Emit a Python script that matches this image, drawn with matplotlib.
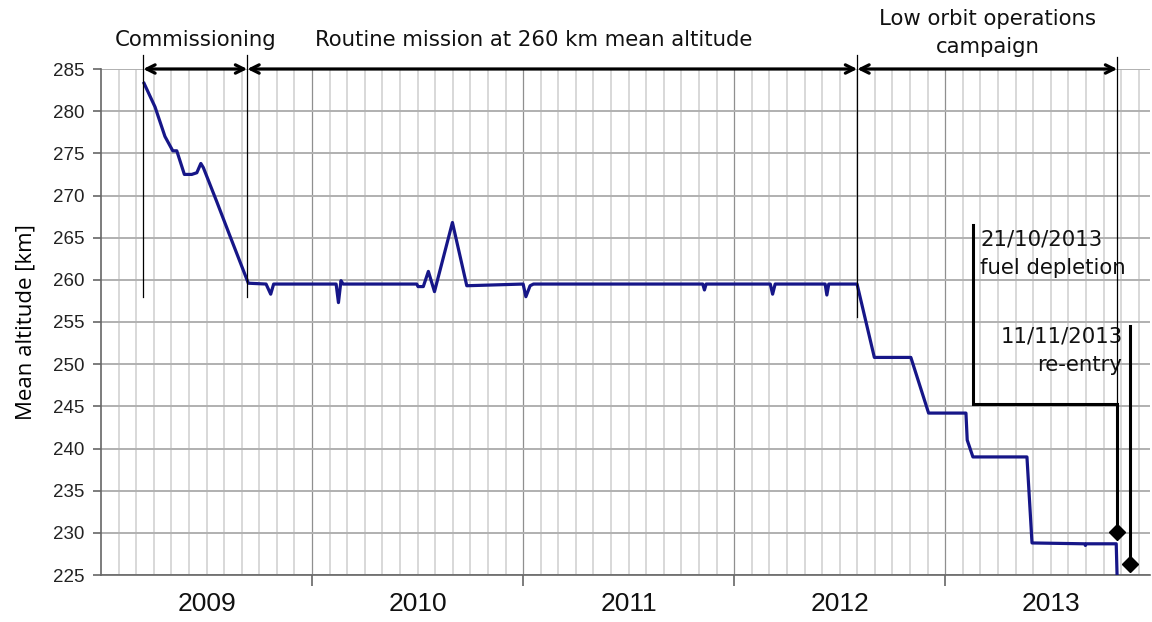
import numpy as np
import matplotlib
matplotlib.use("Agg")
import matplotlib.pyplot as plt

# ---- data (fractional years, mean altitude in km) ----
t = [2009.204, 2009.256, 2009.303, 2009.340, 2009.359, 2009.395, 2009.430,
     2009.454, 2009.473, 2009.485, 2009.548, 2009.611, 2009.698,
     2009.782, 2009.804, 2009.818,
     2010.114, 2010.125, 2010.137, 2010.147,
     2010.496, 2010.502, 2010.527, 2010.551, 2010.580, 2010.665, 2010.733,
     2011.000, 2011.013, 2011.033, 2011.049,
     2011.851, 2011.859, 2011.867,
     2012.171, 2012.182, 2012.194,
     2012.431, 2012.439, 2012.448,
     2012.582, 2012.664, 2012.837, 2012.921, 2013.098, 2013.104, 2013.131,
     2013.387, 2013.411, 2013.660, 2013.664, 2013.668, 2013.810, 2013.815]
alt = [283.3, 280.5, 277.0, 275.3, 275.3, 272.5, 272.5,
       272.7, 273.8, 273.3, 269.3, 265.2, 259.6,
       259.5, 258.3, 259.5,
       259.5, 257.3, 259.9, 259.5,
       259.5, 259.2, 259.2, 261.0, 258.6, 266.8, 259.3,
       259.5, 258.0, 259.3, 259.5,
       259.5, 258.8, 259.5,
       259.5, 258.3, 259.5,
       259.5, 258.2, 259.5,
       259.5, 250.8, 250.8, 244.2, 244.2, 241.0, 239.0,
       239.0, 228.8, 228.7, 228.5, 228.7, 228.7, 224.0]

years = [2009, 2010, 2011, 2012, 2013]
year_labels = ["2009", "2010", "2011", "2012", "2013"]
yticks = [225, 230, 235, 240, 245, 250, 255, 260, 265, 270, 275, 280, 285]

phase_bounds = [2009.200, 2009.693, 2012.583, 2013.815]
phase_labels = ["Commissioning", "Routine mission at 260 km mean altitude",
                "Low orbit operations\ncampaign"]
fuel_date = 2013.815
reentry_date = 2013.877

# ---- figure ----
fig = plt.figure(figsize=(11.52, 6.22), dpi=100)
ax = fig.add_axes([101/1152, 1-575/622, 1049/1152, 506/622])
ax.set_xlim(2009, 2013.97)
ax.set_ylim(225, 285)

# monthly grid
for m in np.arange(2009, 2014, 1/12):
    if abs(m - round(m)) > 1e-6:
        ax.axvline(m, color="#d6d6d6", lw=1.3, zorder=0)
for y in years[1:]:
    ax.axvline(y, color="#8f8f8f", lw=0.9, zorder=0.5)
for v in yticks:
    ax.axhline(v, color="#b0b0b0", lw=1.4, zorder=0.6)

ax.plot(t, alt, color="#161688", lw=2.3, zorder=3, solid_joinstyle="round")

# spines and ticks
for s in ["top", "right"]:
    ax.spines[s].set_visible(False)
ax.spines["left"].set_color("#666666")
ax.spines["bottom"].set_color("#666666")
ax.spines["left"].set_linewidth(1.2)
ax.spines["bottom"].set_linewidth(1.2)

ax.set_yticks(yticks)
ax.set_yticklabels([str(v) for v in yticks], fontsize=13.5, family="Liberation Sans", color="#222222")
ax.tick_params(axis="y", length=6, width=1.2, color="#666666", pad=6)

ax.set_xticks(years[1:])
ax.set_xticklabels([""] * 4)
ax.tick_params(axis="x", which="major", length=8, width=1.2, color="#666666")
ax.set_xticks([y + 0.5 for y in years], minor=True)
ax.set_xticklabels(year_labels, minor=True, fontsize=19, family="Liberation Sans", color="#111111")
ax.tick_params(axis="x", which="minor", length=0, pad=12)

ax.set_ylabel("Mean altitude [km]", fontsize=16, family="Open Sans", labelpad=12)

# phase markers
for xb in phase_bounds[:3]:
    lo = 258.0 if xb < 2010 else 255.6
    ax.plot([xb, xb], [lo, 286.7], color="black", lw=0.9, clip_on=False, zorder=4)
ax.plot([phase_bounds[3]] * 2, [245.3, 286.4], color="black", lw=0.9, clip_on=False, zorder=4)

for a, b in zip(phase_bounds[:-1], phase_bounds[1:]):
    ax.annotate("", xy=(a, 285), xytext=(b, 285),
                arrowprops=dict(arrowstyle="<->,head_length=0.6,head_width=0.3",
                                color="black", lw=2.3, shrinkA=0, shrinkB=0),
                annotation_clip=False, zorder=5)

txt = dict(fontsize=15.3, family="DejaVu Sans", color="#111111")
ax.text((phase_bounds[0] + phase_bounds[1]) / 2, 288.4, phase_labels[0],
        ha="center", va="center", **txt)
ax.text(2011.05, 288.4, phase_labels[1], ha="center", va="center", **txt)
ax.text(2013.2, 289.3, phase_labels[2], ha="center", va="center",
        linespacing=1.5, **txt)

# fuel depletion annotation
ax.plot([2013.130, 2013.130, fuel_date, fuel_date], [266.5, 245.3, 245.3, 230.1],
        color="black", lw=2.2, zorder=5, solid_joinstyle="miter")
ax.plot([fuel_date], [230.1], marker="D", color="black", ms=8.5, zorder=6)
ax.text(2013.166, 263.1, "21/10/2013\nfuel depletion", ha="left", va="center",
        linespacing=1.5, **txt)

# re-entry annotation
ax.plot([reentry_date, reentry_date], [254.5, 226.3], color="black", lw=2.2, zorder=5)
ax.plot([reentry_date], [226.3], marker="D", color="black", ms=8.5, zorder=6,
        clip_on=False)
ax.text(2013.840, 251.6, "11/11/2013\nre-entry", ha="right", va="center",
        linespacing=1.5, **txt)

fig.savefig("out.png", dpi=100)
